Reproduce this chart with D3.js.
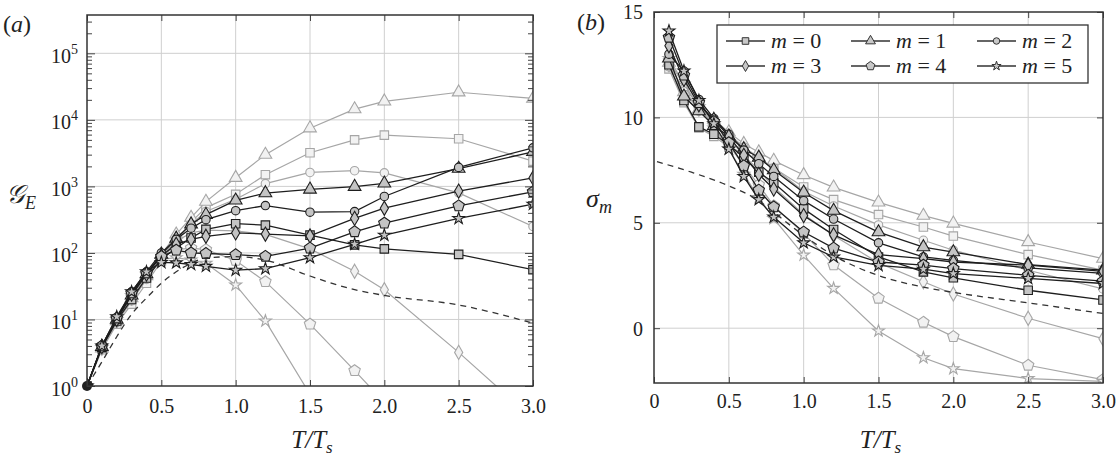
<!DOCTYPE html>
<html><head><meta charset="utf-8">
<script src="https://cdn.jsdelivr.net/npm/d3@7"></script>
<style>
body{margin:0;background:#fff}
svg{display:block}
text{font-family:"Liberation Serif",serif;fill:#222}
</style>
</head><body>
<svg id="c" width="1116" height="460" font-family="Liberation Serif, serif"></svg>
<script>
// ---------------- data: panel (a)  G_E vs T/Ts (log) ----------------
const xA = [0, 0.1, 0.2, 0.3, 0.4, 0.5, 0.6, 0.7, 0.8, 1.0, 1.2, 1.5, 1.8, 2.0, 2.5, 3.0];
const aDark0 = [1, 3.8, 9.5, 20, 42, 80, 119, 168, 226, 275, 262, 185, 132, 115, 95, 56];
const aDark1 = [1, 3.9, 10, 23, 48, 95, 165, 270, 376, 617, 795, 900, 990, 1110, 1850, 3300];
const aDark2 = [1, 4.0, 10.5, 26, 52, 100, 160, 235, 316, 432, 515, 410, 418, 705, 1930, 3800];
const aDark3 = [1, 3.9, 10, 24, 48, 90, 135, 160, 178, 200, 192, 180, 330, 470, 850, 1340];
const aDark4 = [1, 4.0, 10.5, 25, 50, 88, 110, 100, 98, 94, 89, 118, 208, 280, 510, 830];
const aDark5 = [1, 4.0, 11, 26, 52, 72, 71, 67, 63, 55, 58, 85, 135, 185, 330, 540];
const aLight0 = [1, 3.5, 8.5, 17, 35, 75, 150, 290, 480, 760, 1500, 3200, 5000, 5900, 5200, 2400];
const aLight1 = [1, 3.7, 9.5, 21, 45, 95, 190, 340, 590, 1350, 3000, 7500, 14500, 19000, 26000, 21000];
const aLight2 = [1, 3.6, 9, 19, 40, 85, 165, 270, 420, 640, 1100, 1620, 1720, 1600, 800, 250];
const aLight3 = [1, 3.7, 9.5, 21, 45, 88, 150, 200, 220, 215, 190, 115, 53, 28, 3.2, 0.32];
const aLight4 = [1, 3.8, 10, 22, 47, 88, 112, 118, 112, 77, 37, 8.5, 1.7, 0.57, null, null];
const aLight5 = [1, 3.8, 10, 23, 48, 80, 85, 78, 70, 33, 9.5, 0.75, null, null, null, null];
const xADash = [0, 0.1, 0.2, 0.3, 0.4, 0.5, 0.6, 0.7, 0.8, 1.0, 1.2, 1.5, 1.8, 2.0, 2.5, 3.0];
const aDash = [1, 2.3, 5.5, 12, 21, 35, 52, 70, 84, 88, 78, 45, 28, 23, 16.5, 8.8];

// ---------------- data: panel (b)  sigma_m vs T/Ts ----------------
const xB = [0.1, 0.2, 0.3, 0.4, 0.5, 0.6, 0.7, 0.8, 1.0, 1.2, 1.5, 1.8, 2.0, 2.5, 3.0];
const bDark0 = [12.5, 10.8, 9.55, 9.2, 8.7, 8.1, 7.4, 6.9, 5.66, 4.68, 3.38, 2.67, 2.39, 1.8, 1.34];
const bDark1 = [12.8, 11.0, 10.3, 9.6, 9.1, 8.5, 8.1, 7.5, 6.44, 5.58, 4.56, 3.85, 3.61, 3.02, 2.75];
const bDark2 = [13.0, 12.2, 10.85, 9.95, 9.2, 8.45, 7.8, 7.2, 6.05, 5.18, 4.05, 3.38, 3.22, 2.86, 2.6];
const bDark3 = [13.4, 11.8, 10.6, 9.9, 9.1, 8.2, 7.3, 6.6, 5.34, 4.43, 3.49, 3.3, 3.14, 2.99, 2.7];
const bDark4 = [13.8, 12.0, 10.7, 9.8, 8.8, 7.7, 6.55, 5.75, 4.56, 3.8, 3.14, 2.99, 2.83, 2.51, 2.23];
const bDark5 = [14.1, 12.2, 10.8, 9.7, 8.5, 7.2, 6.1, 5.27, 4.05, 3.38, 2.98, 2.8, 2.59, 2.36, 2.12];
const bLight0 = [12.3, 10.7, 9.5, 9.1, 8.6, 8.3, 8.0, 7.6, 6.7, 6.1, 5.39, 4.8, 4.37, 3.49, 2.75];
const bLight1 = [12.6, 11.2, 10.4, 9.9, 9.3, 8.75, 8.35, 7.95, 7.27, 6.68, 5.97, 5.34, 4.97, 4.09, 3.3];
const bLight2 = [12.4, 11.0, 10.3, 9.8, 9.2, 8.6, 8.1, 7.6, 6.5, 5.8, 4.9, 4.17, 3.7, 2.75, 1.86];
const bLight3 = [12.5, 11.3, 10.4, 9.7, 9.0, 8.2, 7.5, 6.7, 5.4, 4.4, 3.1, 2.2, 1.62, 0.47, -0.5];
const bLight4 = [12.7, 11.5, 10.5, 9.6, 8.7, 7.7, 6.8, 5.8, 4.5, 3.0, 1.42, 0.28, -0.4, -1.76, -2.44];
const bLight5 = [12.8, 11.6, 10.5, 9.5, 8.5, 7.3, 6.2, 5.2, 3.47, 1.89, -0.13, -1.4, -1.92, -2.39, -2.52];
const xBDash = [0.02, 0.25, 0.5, 0.7, 0.8, 1.0, 1.2, 1.5, 1.8, 2.0, 2.5, 3.0];
const bDash = [7.9, 7.4, 6.75, 6.05, 5.5, 4.4, 3.45, 2.5, 1.95, 1.7, 1.2, 0.7];

// ---------------- ticks & labels ----------------
const xTicks = [0, 0.5, 1.0, 1.5, 2.0, 2.5, 3.0];
const xTickLabels = ["0", "0.5", "1.0", "1.5", "2.0", "2.5", "3.0"];
const yTicksA = [1, 10, 100, 1000, 10000, 100000];
const yTickExpA = ["0", "1", "2", "3", "4", "5"];
const yTicksB = [0, 5, 10, 15];
const yTickLabelsB = ["0", "5", "10", "15"];
const legendLabels = ["0", "1", "2", "3", "4", "5"];

// ---------------- layout ----------------
const serif = "Liberation Serif, serif";
const svg = d3.select("#c");
const A = {l: 87, r: 533, t: 15, b: 386};
const B = {l: 654, r: 1103, t: 12, b: 383};
const xa = d3.scaleLinear([0, 3], [A.l, A.r]);
const ya = d3.scaleLog([1, Math.pow(10, 5.576)], [A.b, A.t]);
const xb = d3.scaleLinear([0, 3], [B.l, B.r]);
const yb = d3.scaleLinear([-2.6, 15], [B.b, B.t]);

const DARK = "#1e1e1e", LIGHT = "#a6a6a6", GRID = "#cfcfcf";

// marker shapes
const pentagon = {draw(ctx, size) {
  const r = Math.sqrt(size / 2.38);
  for (let i = 0; i < 5; i++) {
    const a = -Math.PI / 2 + i * 2 * Math.PI / 5;
    const px = r * Math.cos(a), py = r * Math.sin(a);
    if (i === 0) ctx.moveTo(px, py); else ctx.lineTo(px, py);
  }
  ctx.closePath();
}};
const symDefs = [
  {type: d3.symbolSquare, size: 72},
  {type: d3.symbolTriangle, size: 70},
  {type: d3.symbolCircle, size: 56},
  {type: d3.symbolDiamond, size: 58},
  {type: pentagon, size: 85},
  {type: d3.symbolStar, size: 44}
];

const defs = svg.append("defs");
defs.append("clipPath").attr("id", "clipA").append("rect")
  .attr("x", A.l).attr("y", A.t).attr("width", A.r - A.l).attr("height", A.b - A.t);
defs.append("clipPath").attr("id", "clipB").append("rect")
  .attr("x", B.l).attr("y", B.t).attr("width", B.r - B.l).attr("height", B.b - B.t);

// ---------- grids ----------
function grid(g, xs, ys, xv, yv, P) {
  g.selectAll("line.gx").data(xv).join("line").attr("class", "gx")
    .attr("x1", d => xs(d)).attr("x2", d => xs(d)).attr("y1", P.t).attr("y2", P.b)
    .attr("stroke", GRID).attr("stroke-width", 1);
  g.selectAll("line.gy").data(yv).join("line").attr("class", "gy")
    .attr("y1", d => ys(d)).attr("y2", d => ys(d)).attr("x1", P.l).attr("x2", P.r)
    .attr("stroke", GRID).attr("stroke-width", 1);
}
grid(svg.append("g"), xa, ya, [0.5, 1, 1.5, 2, 2.5], [10, 100, 1000, 10000, 100000], A);
grid(svg.append("g"), xb, yb, [0.5, 1, 1.5, 2, 2.5], [0, 5, 10], B);

// ---------- series drawing ----------
function drawSeries(g, xs, ys, xvals, vals, color, fill, sym, clipId, minY, lw) {
  const pts = xvals.map((x, i) => [x, vals[i]]).filter(d => d[1] !== null);
  const line = d3.line().x(d => xs(d[0])).y(d => ys(d[1]));
  const gg = g.append("g").attr("clip-path", `url(#${clipId})`);
  gg.append("path").attr("d", line(pts)).attr("fill", "none")
    .attr("stroke", color).attr("stroke-width", lw);
  gg.selectAll("path.m").data(pts.filter(d => d[1] >= minY)).join("path").attr("class", "m")
    .attr("d", d3.symbol(sym.type, sym.size))
    .attr("transform", d => `translate(${xs(d[0])},${ys(d[1])})`)
    .attr("fill", fill).attr("stroke", color).attr("stroke-width", 1.1);
}

const aLights = [aLight0, aLight1, aLight2, aLight3, aLight4, aLight5];
const aDarks = [aDark0, aDark1, aDark2, aDark3, aDark4, aDark5];
const bLights = [bLight0, bLight1, bLight2, bLight3, bLight4, bLight5];
const bDarks = [bDark0, bDark1, bDark2, bDark3, bDark4, bDark5];

const gA = svg.append("g");
aLights.forEach((v, i) => drawSeries(gA, xa, ya, xA, v, LIGHT, "#f2f2f2", symDefs[i], "clipA", 1, 1.2));
aDarks.forEach((v, i) => drawSeries(gA, xa, ya, xA, v, DARK, "#c4c4c4", symDefs[i], "clipA", 1, 1.3));
gA.append("path").attr("clip-path", "url(#clipA)")
  .attr("d", d3.line().curve(d3.curveMonotoneX).x(d => xa(d[0])).y(d => ya(d[1]))(xADash.map((x, i) => [x, aDash[i]])))
  .attr("fill", "none").attr("stroke", "#333").attr("stroke-width", 1.3).attr("stroke-dasharray", "6,5");
gA.append("circle").attr("cx", xa(0)).attr("cy", ya(1)).attr("r", 5).attr("fill", "#222");

const gB = svg.append("g");
bLights.forEach((v, i) => drawSeries(gB, xb, yb, xB, v, LIGHT, "#f2f2f2", symDefs[i], "clipB", -2.6, 1.2));
bDarks.forEach((v, i) => drawSeries(gB, xb, yb, xB, v, DARK, "#c4c4c4", symDefs[i], "clipB", -2.6, 1.3));
gB.append("path").attr("clip-path", "url(#clipB)")
  .attr("d", d3.line().curve(d3.curveMonotoneX).x(d => xb(d[0])).y(d => yb(d[1]))(xBDash.map((x, i) => [x, bDash[i]])))
  .attr("fill", "none").attr("stroke", "#333").attr("stroke-width", 1.3).attr("stroke-dasharray", "6,5");

// ---------- axes ----------
function styleAxis(g) {
  g.attr("font-family", serif).attr("font-size", 20);
  g.select(".domain").remove();
  g.selectAll(".tick line").attr("stroke", "#444").attr("stroke-width", 1);
  g.selectAll("text").attr("font-family", serif).style("font-family", serif)
    .style("font-size", "20px").attr("fill", "#222");
}
const axA = svg.append("g").attr("transform", `translate(0,${A.b})`)
  .call(d3.axisBottom(xa).tickValues(xTicks).tickFormat((d, i) => xTickLabels[i]).tickSizeInner(-6).tickSizeOuter(0));
styleAxis(axA);
axA.selectAll(".tick text").attr("y", 27).attr("dy", 0);
svg.append("g").attr("transform", `translate(0,${A.t})`)
  .call(d3.axisTop(xa).tickValues(xTicks).tickFormat("").tickSizeInner(-6).tickSizeOuter(0)).call(styleAxis);
const minorA = [];
for (let k = 0; k < 6; k++) for (let m = 2; m <= 9; m++) { const v = m * Math.pow(10, k); if (v < Math.pow(10, 5.576)) minorA.push(v); }
const ayL = svg.append("g").attr("transform", `translate(${A.l},0)`)
  .call(d3.axisLeft(ya).tickValues(yTicksA).tickFormat(() => "").tickSizeInner(-8).tickSizeOuter(0));
styleAxis(ayL);
ayL.selectAll(".tick text").each(function(d, i) {
  const t = d3.select(this).attr("x", -9).attr("dy", 0).attr("y", 9).attr("text-anchor", "end");
  t.append("tspan").text("10");
  t.append("tspan").attr("dy", -9).style("font-size", "14px").text(yTickExpA[i]);
});
svg.append("g").attr("transform", `translate(${A.l},0)`)
  .call(d3.axisLeft(ya).tickValues(minorA).tickFormat("").tickSizeInner(-5).tickSizeOuter(0)).call(styleAxis);
svg.append("g").attr("transform", `translate(${A.r},0)`)
  .call(d3.axisRight(ya).tickValues(yTicksA).tickFormat("").tickSizeInner(-8).tickSizeOuter(0)).call(styleAxis);
svg.append("g").attr("transform", `translate(${A.r},0)`)
  .call(d3.axisRight(ya).tickValues(minorA).tickFormat("").tickSizeInner(-5).tickSizeOuter(0)).call(styleAxis);

const axB = svg.append("g").attr("transform", `translate(0,${B.b})`)
  .call(d3.axisBottom(xb).tickValues(xTicks).tickFormat((d, i) => xTickLabels[i]).tickSizeInner(-6).tickSizeOuter(0));
styleAxis(axB);
axB.selectAll(".tick text").attr("y", 25).attr("dy", 0);
svg.append("g").attr("transform", `translate(0,${B.t})`)
  .call(d3.axisTop(xb).tickValues(xTicks).tickFormat("").tickSizeInner(-6).tickSizeOuter(0)).call(styleAxis);
const byL = svg.append("g").attr("transform", `translate(${B.l},0)`)
  .call(d3.axisLeft(yb).tickValues(yTicksB).tickFormat((d, i) => yTickLabelsB[i]).tickSizeInner(-6).tickSizeOuter(0));
styleAxis(byL);
byL.selectAll(".tick text").attr("x", -11).attr("dy", "0.34em");
svg.append("g").attr("transform", `translate(${B.r},0)`)
  .call(d3.axisRight(yb).tickValues(yTicksB).tickFormat("").tickSizeInner(-6).tickSizeOuter(0)).call(styleAxis);

[A, B].forEach(P => svg.append("rect").attr("x", P.l).attr("y", P.t)
  .attr("width", P.r - P.l).attr("height", P.b - P.t)
  .attr("fill", "none").attr("stroke", "#333").attr("stroke-width", 1.5));

// ---------- titles ----------
function xTitle(cx) {
  const t = svg.append("text").attr("x", cx).attr("y", 448).attr("text-anchor", "middle")
    .attr("font-family", serif).style("font-size", "25px").style("font-style", "italic");
  t.append("tspan").text("T/T");
  t.append("tspan").attr("dy", 5).style("font-size", "17px").text("s");
}
xTitle((A.l + A.r) / 2 + 2);
xTitle((B.l + B.r) / 2 + 2);

function yTitle(x, y, main, sub) {
  const t = svg.append("text").attr("x", x).attr("y", y).attr("text-anchor", "middle")
    .attr("font-family", serif).style("font-size", "26px").style("font-style", "italic");
  t.append("tspan").text(main);
  t.append("tspan").attr("dy", 6).style("font-size", "18px").text(sub);
}
yTitle(21, 203, "\uD835\uDCA2", "E");
yTitle(599, 207, "\u03C3", "m");

svg.append("text").attr("x", 3).attr("y", 32).attr("font-family", serif).style("font-size", "24px")
  .html('(<tspan font-style="italic">a</tspan>)');
svg.append("text").attr("x", 577).attr("y", 30).attr("font-family", serif).style("font-size", "24px")
  .html('(<tspan font-style="italic">b</tspan>)');

// ---------- legend ----------
const lg = svg.append("g");
lg.append("rect").attr("x", 717).attr("y", 25).attr("width", 371).attr("height", 58)
  .attr("fill", "#fff").attr("stroke", "#333").attr("stroke-width", 1.3);
const colX = [726, 851, 977];
const rowY = [41, 66];
legendLabels.forEach((lab, i) => {
  const cx = colX[i % 3], cy = rowY[Math.floor(i / 3)];
  lg.append("line").attr("x1", cx).attr("x2", cx + 39).attr("y1", cy).attr("y2", cy)
    .attr("stroke", "#333").attr("stroke-width", 1.3);
  lg.append("path").attr("d", d3.symbol(symDefs[i].type, symDefs[i].size * 0.6))
    .attr("transform", `translate(${cx + 19.5},${cy})`)
    .attr("fill", "#c8c8c8").attr("stroke", "#333").attr("stroke-width", 1);
  const t = lg.append("text").attr("x", cx + 45).attr("y", cy + 7)
    .attr("font-family", serif).style("font-size", "22px");
  t.append("tspan").style("font-style", "italic").text("m");
  t.append("tspan").text(" = " + lab);
});
</script>
</body></html>
